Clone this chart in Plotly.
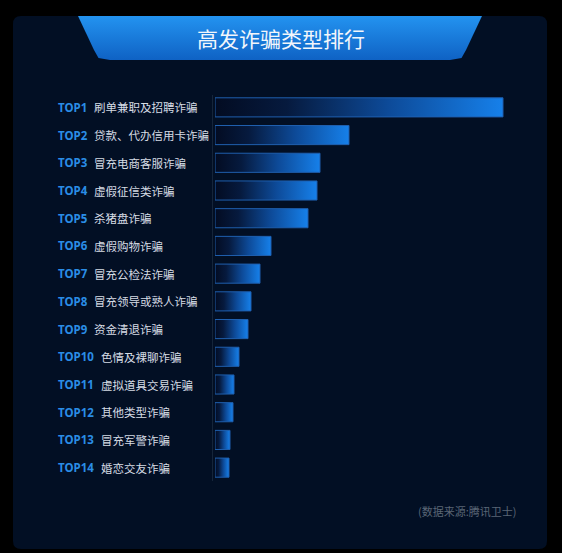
import plotly.graph_objects as go

# ---------------- data ----------------
ranks = ["TOP1", "TOP2", "TOP3", "TOP4", "TOP5", "TOP6", "TOP7",
         "TOP8", "TOP9", "TOP10", "TOP11", "TOP12", "TOP13", "TOP14"]
categories = ["刷单兼职及招聘诈骗", "贷款、代办信用卡诈骗", "冒充电商客服诈骗", "虚假征信类诈骗",
              "杀猪盘诈骗", "虚假购物诈骗", "冒充公检法诈骗", "冒充领导或熟人诈骗",
              "资金清退诈骗", "色情及裸聊诈骗", "虚拟道具交易诈骗", "其他类型诈骗",
              "冒充军警诈骗", "婚恋交友诈骗"]
values = [28.8, 13.4, 10.5, 10.2, 9.3, 5.6, 4.5, 3.6, 3.3, 2.4, 1.9, 1.8, 1.5, 1.4]
title_text = "高发诈骗类型排行"
source_text = "(数据来源:腾讯卫士)"

# ---------------- layout constants ----------------
W, H = 562, 553
PL, PR = 215, 522          # plot area in pixels (x)
PT, PB = 93.5, 481.5       # plot area in pixels (y, from top)
XMAX = 30.7
HALF = 0.345
CJK = "Noto Sans CJK SC"

def fx(p):  # pixel x -> paper
    return p / W

def fy(p):  # pixel y (from top) -> paper
    return 1 - p / H

fig = go.Figure()

# bars drawn as filled rectangles with horizontal gradient
for i, v in enumerate(values):
    fig.add_trace(go.Scatter(
        x=[0, v, v, 0, 0],
        y=[i - HALF, i - HALF, i + HALF, i + HALF, i - HALF],
        mode="lines", fill="toself",
        line=dict(color="#1f5fae", width=1),
        fillgradient=dict(type="horizontal",
                          colorscale=[[0, "#030c22"], [0.25, "#061a3e"],
                                      [0.6, "#0d4a98"], [1, "#1680ea"]],
                          start=0, stop=v),
        hoverinfo="skip", showlegend=False,
        xaxis="x", yaxis="y",
    ))

# title banner with vertical gradient (decorative axes in pixel space)
bx = [78, 482, 466, 461.5, 450, 110, 98.5, 94, 78]
by = [16, 16, 50, 58, 60, 60, 58, 50, 16]
fig.add_trace(go.Scatter(
    x=bx, y=by, mode="lines", fill="toself",
    line=dict(width=0, color="rgba(0,0,0,0)"),
    fillgradient=dict(type="vertical",
                      colorscale=[[0, "#0f62c4"], [1, "#2393f0"]],
                      start=60, stop=16),
    hoverinfo="skip", showlegend=False, xaxis="x2", yaxis="y2",
))

# panel with rounded corners
def rrect(x0, y0, x1, y1, r):
    s = (f"M {fx(x0 + r)} {fy(y0)} L {fx(x1 - r)} {fy(y0)} "
         f"Q {fx(x1)} {fy(y0)} {fx(x1)} {fy(y0 + r)} L {fx(x1)} {fy(y1 - r)} "
         f"Q {fx(x1)} {fy(y1)} {fx(x1 - r)} {fy(y1)} L {fx(x0 + r)} {fy(y1)} "
         f"Q {fx(x0)} {fy(y1)} {fx(x0)} {fy(y1 - r)} L {fx(x0)} {fy(y0 + r)} "
         f"Q {fx(x0)} {fy(y0)} {fx(x0 + r)} {fy(y0)} Z")
    return s

shapes = [
    dict(type="path", xref="paper", yref="paper", path=rrect(13, 16, 547, 549, 8),
         fillcolor="#020f24", line=dict(width=0), layer="below"),
    dict(type="line", xref="paper", yref="paper", x0=fx(212.5), x1=fx(212.5),
         y0=fy(95), y1=fy(481), line=dict(color="#15253a", width=1), layer="below"),
]

annotations = [
    dict(text=title_text, x=fx(281), y=fy(37.5), xref="paper", yref="paper",
         showarrow=False, xanchor="center", yanchor="middle",
         font=dict(family=CJK, size=21, color="#f2f6fb")),
    dict(text=source_text, x=fx(416), y=fy(511), xref="paper", yref="paper",
         showarrow=False, xanchor="left", yanchor="middle",
         font=dict(family=CJK, size=11, color="#5a6676")),
]
for i, (rk, name) in enumerate(zip(ranks, categories)):
    annotations.append(dict(text=f"<b>{rk}</b>", x=fx(56), y=i, xref="paper", yref="y",
                            showarrow=False, xanchor="left", yanchor="middle",
                            font=dict(family="Noto Sans", size=11.5, color="#2a8de6")))
    annotations.append(dict(text=name, x=fx(92 if i < 9 else 98.5), y=i, xref="paper", yref="y",
                            showarrow=False, xanchor="left", yanchor="middle",
                            font=dict(family=CJK, size=11.5, color="#d6dce5")))

fig.update_layout(
    width=W, height=H,
    margin=dict(l=0, r=0, t=0, b=0),
    paper_bgcolor="#000000", plot_bgcolor="rgba(0,0,0,0)",
    xaxis=dict(domain=[fx(PL), fx(PR)], range=[0, XMAX], visible=False, fixedrange=True),
    yaxis=dict(domain=[fy(PB), fy(PT)], range=[13.5, -0.5], visible=False, fixedrange=True),
    xaxis2=dict(domain=[0, 1], range=[0, W], visible=False, anchor="y2", fixedrange=True),
    yaxis2=dict(domain=[0, 1], range=[H, 0], visible=False, anchor="x2", fixedrange=True),
    shapes=shapes, annotations=annotations,
    showlegend=False,
)

fig.write_html(
    "out.html",
    config={"displayModeBar": False},
    post_script="document.body.style.margin='0';document.body.style.background='#000';",
)
